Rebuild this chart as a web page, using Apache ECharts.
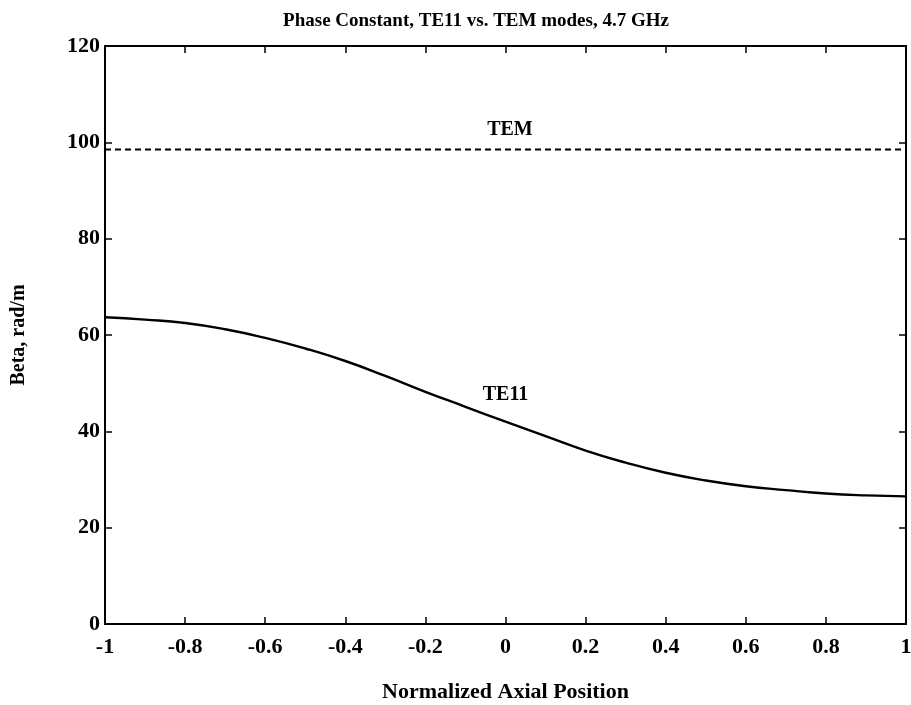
<!DOCTYPE html>
<html>
<head>
<meta charset="utf-8">
<script src="https://cdn.jsdelivr.net/npm/echarts@6/dist/echarts.min.js"></script>
<style>
  html, body { margin: 0; padding: 0; background: #fff; }
  #chart { width: 911px; height: 705px; }
</style>
</head>
<body>
<div id="chart"></div>
<script>
// data
const xPos = [-1, -0.9, -0.8, -0.7, -0.6, -0.5, -0.4, -0.3, -0.2, -0.1, 0,
              0.1, 0.2, 0.3, 0.4, 0.5, 0.6, 0.7, 0.8, 0.9, 1];
const te11 = [63.7, 63.2, 62.5, 61.2, 59.4, 57.2, 54.6, 51.5, 48.2, 45.1, 42,
              39, 36, 33.5, 31.4, 29.8, 28.6, 27.8, 27.1, 26.7, 26.5];
const tem = [98.5, 98.5, 98.5, 98.5, 98.5, 98.5, 98.5, 98.5, 98.5, 98.5, 98.5,
             98.5, 98.5, 98.5, 98.5, 98.5, 98.5, 98.5, 98.5, 98.5, 98.5];
const labelNames = ['TEM', 'TE11'];
const labelCoords = [[0.011, 102.6], [0, 47.6]];

const font = 'Liberation Serif';
const txt = { fontFamily: font, color: '#000', fontWeight: 'bold' };

const chart = echarts.init(document.getElementById('chart'), null, { renderer: 'canvas' });

const axisLine = { show: true, onZero: false, lineStyle: { color: '#000', width: 2 } };
const tick = { show: true, inside: true, length: 7, lineStyle: { color: '#000', width: 1.5 } };

const option = {
  backgroundColor: '#fff',
  animation: false,
  title: {
    text: 'Phase Constant, TE11 vs. TEM modes, 4.7 GHz',
    left: 471, top: 7, textAlign: 'center',
    textStyle: Object.assign({}, txt, { fontSize: 19 })
  },
  grid: { left: 105, right: 5, top: 46, bottom: 81, outerBoundsMode: 'none', containLabel: false },
  xAxis: [
    {
      type: 'value', min: -1, max: 1, interval: 0.2,
      name: 'Normalized Axial Position', nameLocation: 'middle', nameGap: 57,
      nameTextStyle: Object.assign({}, txt, { fontSize: 22 }),
      axisLine: axisLine, axisTick: tick, splitLine: { show: false },
      axisLabel: Object.assign({}, txt, { fontSize: 22, margin: 12, formatter: v => String(+v.toFixed(1)) })
    },
    {
      type: 'value', min: -1, max: 1, interval: 0.2, position: 'top',
      axisLine: axisLine, axisTick: tick, splitLine: { show: false },
      axisLabel: { show: false }
    }
  ],
  yAxis: [
    {
      type: 'value', min: 0, max: 120, interval: 20,
      name: 'Beta, rad/m', nameLocation: 'middle', nameGap: 76,
      nameTextStyle: Object.assign({}, txt, { fontSize: 20 }),
      axisLine: axisLine, axisTick: tick, splitLine: { show: false },
      axisLabel: Object.assign({}, txt, { fontSize: 22, margin: 5 })
    },
    {
      type: 'value', min: 0, max: 120, interval: 20, position: 'right',
      axisLine: axisLine, axisTick: tick, splitLine: { show: false },
      axisLabel: { show: false }
    }
  ],
  series: [
    {
      name: 'TE11', type: 'line', smooth: true, symbol: 'none',
      data: xPos.map((x, i) => [x, te11[i]]),
      lineStyle: { color: '#000', width: 2.4 }
    },
    {
      name: 'TEM', type: 'line', symbol: 'none',
      data: xPos.map((x, i) => [x, tem[i]]),
      lineStyle: { color: '#000', width: 2, type: [6, 4] }
    },
    {
      name: 'labels', type: 'scatter', symbolSize: 0,
      itemStyle: { opacity: 1, color: '#000' },
      data: labelCoords.map((c, i) => ({ value: c, name: labelNames[i] })),
      label: Object.assign({ show: true, position: 'inside', formatter: p => p.name }, txt, { fontSize: 20 })
    }
  ]
};

chart.setOption(option);
</script>
</body>
</html>
